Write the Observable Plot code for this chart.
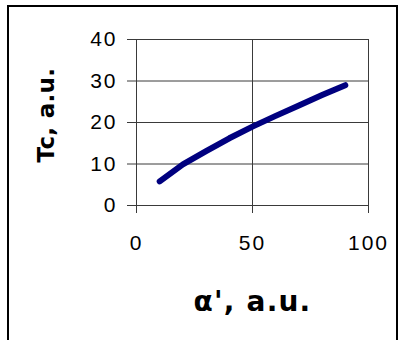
<!DOCTYPE html>
<html>
<head>
<meta charset="utf-8">
<script src="https://cdn.jsdelivr.net/npm/d3@7"></script>
<script src="https://cdn.jsdelivr.net/npm/@observablehq/plot@0.6"></script>
<style>
  html, body { margin: 0; padding: 0; background: #fff; }
  #wrap { position: relative; width: 400px; height: 340px; overflow: hidden; }
  #frame { position: absolute; left: 7px; top: 5px; width: 387px; height: 400px;
           border: 2px solid #000; border-bottom: none; pointer-events: none; }
  svg text { font-family: "Liberation Sans", Arial, sans-serif; }
  svg g[aria-label="y-axis tick label"] text, svg g[aria-label="x-axis tick label"] text { letter-spacing: 2px; }
  svg text.ytitle { font-family: "DejaVu Sans", sans-serif; letter-spacing: 0.3px; }
  svg text.xtitle { font-family: "DejaVu Sans", sans-serif; letter-spacing: 1.2px; }
</style>
</head>
<body>
<div id="wrap"><div id="chart"></div><div id="frame"></div></div>
<script>
// Data
const alphaPrime = [10, 20, 30, 40, 50, 60, 70, 80, 90];
const tc = [5.8, 9.9, 13.1, 16.2, 19.0, 21.6, 24.1, 26.6, 29.0];
const xTicks = [0, 50, 100];
const yTicks = [0, 10, 20, 30, 40];
const xTitle = ["α', a.u."];
const yTitle = ["Tc, a.u."];

const data = alphaPrime.map((a, i) => ({a, t: tc[i]}));
const gridColor = "#3a3a3a";

const chart = Plot.plot({
  width: 400,
  height: 340,
  marginLeft: 136,
  marginRight: 32,
  marginTop: 39,
  marginBottom: 135,
  style: {background: "transparent", fontFamily: "Liberation Sans, Arial, sans-serif"},
  x: {domain: [0, 100]},
  y: {domain: [0, 40]},
  marks: [
    Plot.gridY(yTicks, {stroke: gridColor, strokeOpacity: 1}),
    Plot.gridX(xTicks, {stroke: gridColor, strokeOpacity: 1}),
    Plot.axisY(yTicks, {tickSize: 9, tickPadding: 10, fontSize: 21, label: null, stroke: gridColor, color: "#000"}),
    Plot.axisX(xTicks, {tickSize: 8, tickPadding: 22, fontSize: 21, label: null, stroke: gridColor, color: "#000"}),
    Plot.line(data, {x: "a", y: "t", stroke: "#00007f", strokeWidth: 6, strokeLinecap: "round"}),
    Plot.text(yTitle, {frameAnchor: "left", rotate: -90, dx: -90, dy: 40, fontSize: 23, fontWeight: "bold", fill: "#000", className: "ytitle"}),
    Plot.text(xTitle, {frameAnchor: "bottom", dy: 105, fontSize: 28, fontWeight: "bold", fill: "#000", className: "xtitle"})
  ]
});
document.getElementById("chart").appendChild(chart);
const texts = d3.select(chart).selectAll("g[aria-label='text'] text");
texts.filter(function () { return this.textContent === yTitle[0]; }).classed("ytitle", true);
texts.filter(function () { return this.textContent === xTitle[0]; }).classed("xtitle", true);
</script>
</body>
</html>
